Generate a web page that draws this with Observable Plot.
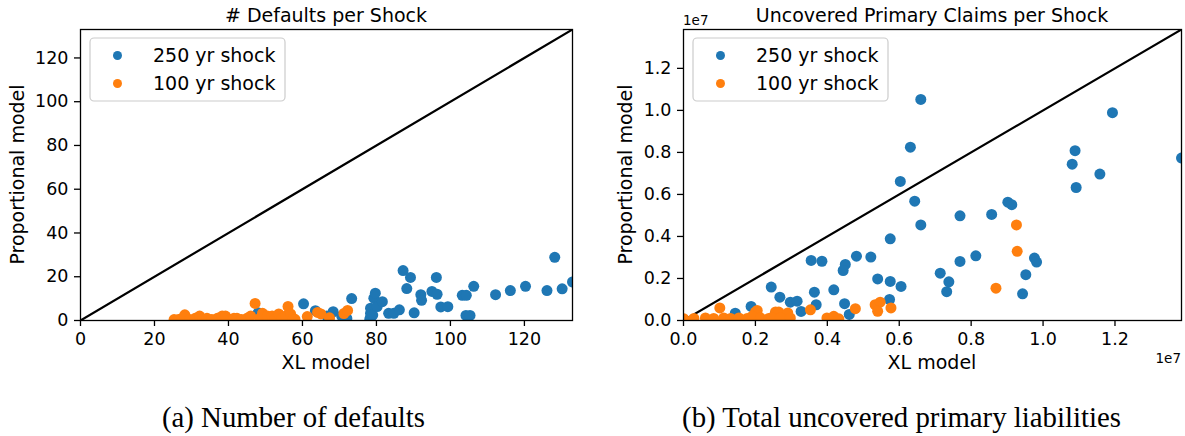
<!DOCTYPE html>
<html>
<head>
<meta charset="utf-8">
<script src="https://cdn.jsdelivr.net/npm/d3@7"></script>
<script src="https://cdn.jsdelivr.net/npm/@observablehq/plot@0.6"></script>
<style>
  html, body { margin: 0; padding: 0; background: #fff; }
  #fig { position: relative; width: 1185px; height: 436px; background: #fff; font-family: "DejaVu Sans", sans-serif; overflow: hidden; }
  #fig > div, #fig > svg { position: absolute; top: 0; }
  svg { overflow: visible; }
</style>
</head>
<body>
<div id="fig">
  <div id="left" style="left:0px"></div>
  <div id="right" style="left:600px"></div>
</div>
<script>
// ---------- data ----------
const seriesNames = ["250 yr shock", "100 yr shock"];
const seriesColors = ["#1f77b4", "#ff7f0e"];

const defaultsTicks = [0, 20, 40, 60, 80, 100, 120];
const defaultsMax = 133;

// # Defaults per Shock : [XL model, Proportional model]
const defaults250 = [
  [48, 3.5], [60.3, 7.6], [63.5, 4.5], [66.6, 2], [67.2, 1], [68.3, 4.0], [70.6, 2], [72, 1],
  [73.3, 10], [78.2, 0.6], [78.4, 1.4], [78.4, 3.3], [78.4, 5.6], [79, 2.5], [79.3, 10.2],
  [79.7, 12.5], [80.2, 6.4], [81.6, 8.6], [83.3, 3.3], [84.7, 3.3], [86.2, 4.9], [87.2, 22.8],
  [88.2, 14.6], [89.2, 19.7], [90.2, 3.5], [92, 11.8], [92.2, 9.2], [95, 13.3], [96.2, 19.7],
  [96.4, 12], [97.4, 6.2], [99.3, 6.3], [103.2, 11.5], [104.3, 11.5], [104.2, 2.3],
  [105.3, 2.3], [106.3, 15.6], [112.2, 11.8], [116.2, 13.7], [120.3, 15.6], [126.1, 13.7],
  [128.2, 28.9], [130.2, 14.5], [133, 17.6]
];
const defaults100 = [
  [25.3, 0.4], [26.5, 0.5], [27.5, 1], [28.2, 2.6], [29.5, 0.5], [31, 1], [32.2, 2], [33, 0.5],
  [34.2, 1], [35.5, 0.5], [37, 1], [38.3, 2], [39.2, 2], [40.5, 0.5], [41.5, 1], [42.3, 1],
  [43.5, 0.5], [45, 1], [46, 2], [47.2, 7.8], [48.5, 1], [49.2, 3.3], [50.5, 2], [51.8, 2],
  [52.5, 0.5], [53.6, 3], [54.5, 1], [55.5, 2], [56.1, 6.4], [56.8, 3], [57.5, 1], [58, 0.5],
  [61.3, 1.8], [64.1, 3.7], [65, 3], [67.3, 1.2], [71.2, 3.2], [72.2, 4.6]
];

const claimsTicks = [0, 0.2e7, 0.4e7, 0.6e7, 0.8e7, 1.0e7, 1.2e7];
const claimsMax = 1.385e7;

// Uncovered Primary Claims per Shock : [XL model, Proportional model]
const claims250 = [
  [0.603e7, 0.662e7], [0.643e7, 0.568e7], [0.660e7, 0.455e7], [0.575e7, 0.389e7],
  [0.355e7, 0.286e7], [0.385e7, 0.282e7], [0.481e7, 0.306e7], [0.450e7, 0.267e7],
  [0.444e7, 0.238e7], [0.521e7, 0.302e7], [0.540e7, 0.198e7], [0.575e7, 0.186e7],
  [0.605e7, 0.162e7], [0.244e7, 0.159e7], [0.268e7, 0.111e7], [0.364e7, 0.135e7],
  [0.418e7, 0.146e7], [0.297e7, 0.087e7], [0.316e7, 0.092e7], [0.327e7, 0.043e7],
  [0.369e7, 0.075e7], [0.448e7, 0.080e7], [0.461e7, 0.029e7], [0.573e7, 0.100e7],
  [0.188e7, 0.067e7], [0.144e7, 0.035e7], [0.256e7, 0.035e7], [0.279e7, 0.016e7],
  [0.287e7, 0.008e7], [0.660e7, 1.052e7], [0.631e7, 0.825e7], [0.769e7, 0.498e7],
  [0.857e7, 0.505e7], [0.902e7, 0.563e7], [0.913e7, 0.551e7], [1.193e7, 0.989e7],
  [1.089e7, 0.808e7], [1.081e7, 0.744e7], [1.158e7, 0.697e7], [1.092e7, 0.633e7],
  [1.385e7, 0.773e7], [0.714e7, 0.225e7], [0.738e7, 0.184e7], [0.732e7, 0.137e7],
  [0.769e7, 0.281e7], [0.813e7, 0.308e7], [0.976e7, 0.297e7], [0.982e7, 0.278e7],
  [0.952e7, 0.218e7], [0.943e7, 0.127e7]
];
const claims100 = [
  [0.101e7, 0.060e7], [0.205e7, 0.048e7], [0.200e7, 0.040e7], [0.256e7, 0.041e7],
  [0.265e7, 0.040e7], [0.290e7, 0.036e7], [0.353e7, 0.051e7], [0.478e7, 0.056e7],
  [0.533e7, 0.075e7], [0.547e7, 0.087e7], [0.540e7, 0.044e7], [0.577e7, 0.060e7],
  [0.926e7, 0.455e7], [0.928e7, 0.329e7], [0.869e7, 0.154e7],
  [0.001e7, 0.008e7], [0.029e7, 0.010e7], [0.061e7, 0.012e7], [0.084e7, 0.010e7],
  [0.112e7, 0.012e7], [0.131e7, 0.010e7], [0.154e7, 0.012e7], [0.177e7, 0.010e7],
  [0.191e7, 0.020e7], [0.214e7, 0.012e7], [0.237e7, 0.010e7], [0.246e7, 0.014e7],
  [0.269e7, 0.012e7], [0.297e7, 0.012e7], [0.399e7, 0.012e7], [0.418e7, 0.020e7],
  [0.432e7, 0.008e7]
];

// ---------- drawing ----------
const FS_TICK = 17.5;

function panel({width, marginLeft, marginRight, max, ticks, fmt, s250, s100}) {
  const diag = [[0, 0], [max, max]];
  return Plot.plot({
    width, height: 380,
    marginLeft, marginRight, marginTop: 29, marginBottom: 60,
    style: {fontFamily: "DejaVu Sans", background: "transparent", overflow: "visible"},
    x: {domain: [0, max]},
    y: {domain: [0, max]},
    marks: [
      Plot.line(diag, {x: d => d[0], y: d => d[1], stroke: "black", strokeWidth: 2.2, clip: "frame"}),
      Plot.dot(s250, {x: d => d[0], y: d => d[1], r: 5.5, fill: seriesColors[0], clip: "frame"}),
      Plot.dot(s100, {x: d => d[0], y: d => d[1], r: 5.5, fill: seriesColors[1], clip: "frame"}),
      Plot.frame({stroke: "black", strokeWidth: 1.3}),
      Plot.axisX({ticks, tickFormat: fmt, tickSize: 6, tickPadding: 6, fontSize: FS_TICK, label: null, strokeWidth: 1.3, stroke: "black", fill: "black"}),
      Plot.axisY({ticks, tickFormat: fmt, tickSize: 6, tickPadding: 6, fontSize: FS_TICK, label: null, strokeWidth: 1.3, stroke: "black", fill: "black"})
    ]
  });
}

document.getElementById("left").appendChild(panel({
  width: 600, marginLeft: 80, marginRight: 28, max: defaultsMax, ticks: defaultsTicks,
  fmt: d => String(d), s250: defaults250, s100: defaults100
}));
document.getElementById("right").appendChild(panel({
  width: 585, marginLeft: 83, marginRight: 4, max: claimsMax, ticks: claimsTicks,
  fmt: d => (d / 1e7).toFixed(1), s250: claims250, s100: claims100
}));

// ---------- overlay text / legends ----------
const ov = d3.select("#fig").append("svg")
  .attr("width", 1185).attr("height", 436)
  .style("left", "0px").style("top", "0px")
  .style("font-family", "DejaVu Sans");

function txt(x, y, s, size, anchor = "middle", rot = 0, family = null) {
  const t = ov.append("text").attr("x", x).attr("y", y)
    .attr("text-anchor", anchor).attr("font-size", size).attr("fill", "black").text(s);
  if (rot) t.attr("transform", `rotate(${rot},${x},${y})`);
  if (family) t.attr("font-family", family);
  return t;
}

const panels = [
  {x0: 80, x1: 572, title: "# Defaults per Shock", caption: "(a) Number of defaults", capX: 293.5, ylabX: 23.5, exp: false},
  {x0: 683, x1: 1181, title: "Uncovered Primary Claims per Shock", caption: "(b) Total uncovered primary liabilities", capX: 901.5, ylabX: 631.5, exp: true}
];

panels.forEach(p => {
  const cx = (p.x0 + p.x1) / 2;
  txt(cx, 21.5, p.title, 19);
  txt(cx, 369, "XL model", 19);
  txt(p.ylabX, 174.5, "Proportional model", 19, "middle", -90);
  txt(p.capX, 427, p.caption, 28.8, "middle", 0, "Liberation Serif");
  if (p.exp) {
    txt(p.x0, 25, "1e7", 13.5, "start");
    txt(p.x1, 363, "1e7", 13.5, "end");
  }
  // legend
  const lx = p.x0 + 10;
  ov.append("rect").attr("x", lx).attr("y", 38).attr("width", 195).attr("height", 63)
    .attr("rx", 4).attr("fill", "white").attr("fill-opacity", 0.8)
    .attr("stroke", "#cccccc").attr("stroke-width", 1.2);
  seriesNames.forEach((name, i) => {
    const y = 55.5 + i * 28;
    ov.append("circle").attr("cx", lx + 27.5).attr("cy", y).attr("r", 4.5).attr("fill", seriesColors[i]);
    txt(lx + 63, y + 6.3, name, 19, "start");
  });
});
</script>
</body>
</html>
